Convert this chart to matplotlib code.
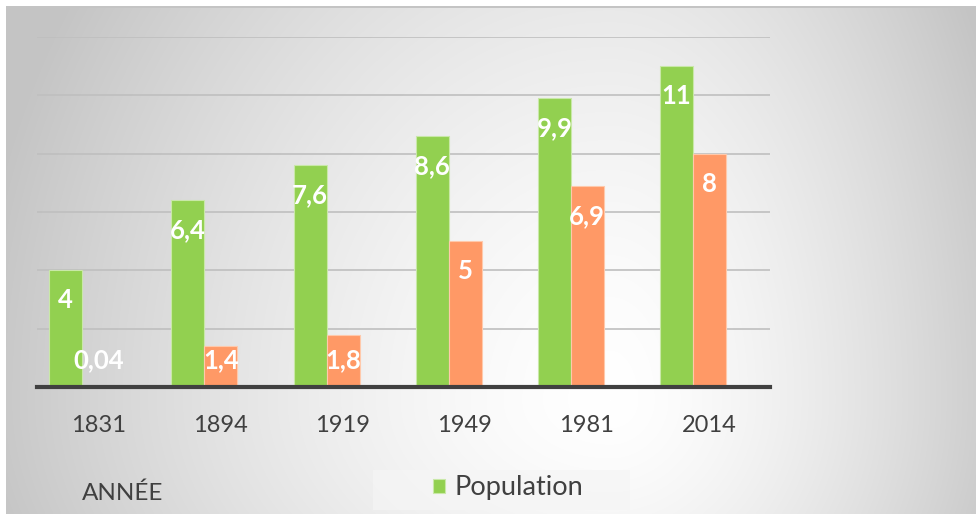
import matplotlib
matplotlib.use("Agg")
import matplotlib.pyplot as plt
import numpy as np
from matplotlib.patches import Rectangle

plt.rcParams['font.family'] = ['Lato', 'DejaVu Sans']

annees = ['1831', '1894', '1919', '1949', '1981', '2014']
population = [4, 6.4, 7.6, 8.6, 9.9, 11]
serie2 = [0.04, 1.4, 1.8, 5, 6.9, 8]
lab_pop = ['4', '6,4', '7,6', '8,6', '9,9', '11']
lab_s2 = ['0,04', '1,4', '1,8', '5', '6,9', '8']

W, H = 976, 514
fig = plt.figure(figsize=(W / 100, H / 100), dpi=100)

# background: soft radial grey gradient, white margin top/left
bg = fig.add_axes([0, 0, 1, 1], zorder=-10)
yy, xx = np.mgrid[0:H, 0:W].astype(float)
cx, cy = 610.0, 400.0
dx = xx - cx
dy = yy - cy
rx = np.where(dx < 0, 640.0, 420.0)
ry = np.where(dy < 0, 750.0, 420.0)
t = np.clip(np.sqrt((dx / rx) ** 2 + (dy / ry) ** 2), 0, 1)
val = 1.0 - 0.23 * t ** 1.5
img = np.dstack([val, val, val])
img[:6, :, :] = 1.0
img[:, :6, :] = 1.0
img[6:8, 6:, :] = 0.77
bg.imshow(img, extent=[0, W, H, 0], aspect='auto', interpolation='bilinear')
bg.set_xlim(0, W)
bg.set_ylim(H, 0)
bg.axis('off')

# legend panel
bg.add_patch(Rectangle((373, 470), 257, 40, facecolor='#f5f5f5', edgecolor='none', alpha=0.7))

ax = fig.add_axes([37 / W, 1 - 387 / H, 733 / W, 350 / H])
ax.patch.set_alpha(0)

x = np.arange(len(annees))
w = 0.27
b1 = ax.bar(x - 0.265, population, w, color='#92D050', edgecolor='#c9e8a8', linewidth=0.8, zorder=3)
b2 = ax.bar(x + 0.005, serie2, w, color='#FF9966', edgecolor='#ffc9ab', linewidth=0.8, zorder=3)

for xi, v, s in zip(x - 0.265, population, lab_pop):
    ax.text(xi, max(v - 1.03, 0.93), s, ha='center', va='center', color='white',
            fontsize=18.5, fontweight='bold', zorder=5)
for xi, v, s in zip(x + 0.005, serie2, lab_s2):
    ax.text(xi, max(v - 1.03, 0.93), s, ha='center', va='center', color='white',
            fontsize=18.5, fontweight='bold', zorder=5)

ax.set_xlim(-0.5, 5.5)
ax.set_ylim(0, 12)
ax.set_yticks(np.arange(0, 13, 2))
ax.yaxis.grid(True, color='#bfbfbf', linewidth=1.2, zorder=0)
ax.set_axisbelow(True)
ax.tick_params(axis='y', left=False, labelleft=False)
ax.set_xticks(x)
ax.set_xticklabels(annees, fontsize=17, color='#404040')
ax.tick_params(axis='x', length=0, pad=20)
for s in ['top', 'right', 'left']:
    ax.spines[s].set_visible(False)
ax.spines['bottom'].set_color('#404040')
ax.spines['bottom'].set_linewidth(3)
ax.spines['bottom'].set_zorder(6)

fig.text(123 / W, 1 - 493 / H, 'ANNÉE', ha='center', va='center', fontsize=17.5, color='#404040')

fig.legend([b1], ['Population'], loc='center', bbox_to_anchor=(508 / W, 1 - 488 / H),
           frameon=False, fontsize=19.5, handlelength=0.45, handleheight=0.45,
           handletextpad=0.35, labelcolor='#404040')

fig.savefig('out.png', dpi=100)
